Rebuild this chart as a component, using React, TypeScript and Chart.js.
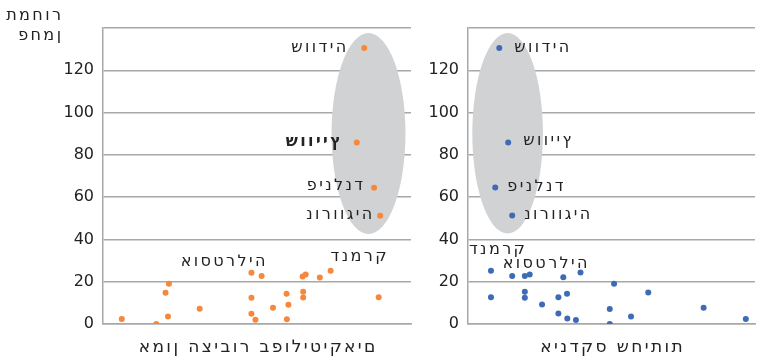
import React, { useEffect, useRef } from "react";
import { Chart, registerables } from "chart.js";

Chart.register(...registerables);

// Carbon price (shared y values), sorted
const carbonPrice = [0, 2, 2.3, 2.4, 3.6, 4.9, 7.2, 7.7, 9.1, 12.4, 12.5, 12.6, 14.3, 14.8, 15.2, 19, 22, 22.5, 22.7, 23.4, 24.2, 25.2, 51.2, 64.5, 85.9, 130.5];
// Left panel: public trust in politicians (arbitrary 0-100 units), matched to carbonPrice order
const trustX = [17.3, 49.5, 59.7, 6.1, 21.1, 48.2, 31.4, 55.2, 60.2, 48.2, 65.0, 89.5, 59.6, 20.3, 65.0, 21.4, 70.4, 64.8, 51.5, 65.8, 48.2, 73.9, 90.0, 88.0, 82.4, 84.8];
// Right panel: corruption index (arbitrary 0-100 units)
const corruptionY = [0, 1.9, 2.4, 2.6, 3.6, 5, 7.1, 7.7, 9.2, 12.4, 12.7, 12.7, 14.3, 14.9, 15.2, 19, 22.1, 22.7, 22.7, 23.4, 24.3, 25.2, 51.3, 64.6, 85.9, 130.5];
const corruptionX = [49.4, 37.6, 96.8, 34.6, 56.8, 31.5, 49.4, 82.1, 25.8, 19.8, 8.0, 31.5, 34.5, 62.8, 19.8, 50.9, 33.2, 15.4, 19.8, 21.5, 39.2, 8.0, 15.4, 9.5, 14.0, 10.9];

const yTicks = [0, 20, 40, 60, 80, 100, 120];
const yTitle = ["תמחור", "פחמן"];
const leftTitle = "אמון הציבור בפוליטיקאים";
const rightTitle = "אינדקס שחיתות";

// Labelled countries and their point index in each panel
const countries = ["שוודיה", "שווייץ", "פינלנד", "נורווגיה", "דנמרק", "אוסטרליה"];
const leftIdx = [25, 24, 23, 22, 21, 20];
const rightIdx = [25, 24, 23, 22, 21, 20];

// Ellipse (data units): cx, cy, rx, ry
const leftEllipse = [86.2, 90.1, 12.0, 47.5];
const rightEllipse = [13.8, 90.2, 12.3, 47.4];

const FONT = "'DejaVu Sans', sans-serif";
const ORANGE = "#F5883A";
const BLUE = "#3D6BB5";
const GRID = "#A8A8A8";
const ELLIPSE = "#D1D2D4";
const TEXT = "#222";
const SPACING = 2.4;

type LabelStyle = { align: "left" | "right"; dx: number; dy: number; bold?: boolean };
const leftLabelStyles: LabelStyle[] = [
  { align: "right", dx: -18, dy: 0 },
  { align: "right", dx: -16, dy: -1, bold: true },
  { align: "right", dx: -11, dy: -1.5 },
  { align: "right", dx: -8, dy: -1 },
  { align: "right", dx: 56, dy: -14 },
  { align: "right", dx: 14, dy: -11 },
];
const rightLabelStyles: LabelStyle[] = [
  { align: "left", dx: 15, dy: 0 },
  { align: "left", dx: 15, dy: -1.5 },
  { align: "left", dx: 12, dy: -1 },
  { align: "left", dx: 12, dy: -1 },
  { align: "right", dx: 34, dy: -21 },
  { align: "right", dx: 7, dy: -9 },
];

// Draw Hebrew text with letters laid out left-to-right in logical order (as in the reference)
function drawHeb(ctx: any, text: string, x: number, y: number, align: "left" | "right" | "center", font: string, spacing: number) {
  ctx.font = font;
  ctx.letterSpacing = spacing + "px";
  ctx.textAlign = "left";
  const s = "\u202D" + text + "\u202C";
  const w = ctx.measureText(s).width - spacing;
  let sx = x;
  if (align === "right") sx = x - w;
  else if (align === "center") sx = x - w / 2;
  ctx.fillText(s, sx, y);
}

function makeOptions(
  xs: number[], ys: number[], color: string, title: string, yWidth: number, padRight: number,
  ellipse: number[], labelIdx: number[], labelStyles: LabelStyle[], showYTitle: boolean
) {
  const plugin = {
    id: "decor",
    beforeDatasetsDraw(chart: any) {
      const { ctx, scales } = chart;
      const x = scales.x, y = scales.y;
      const cx = x.getPixelForValue(ellipse[0]);
      const cy = y.getPixelForValue(ellipse[1]);
      const rx = Math.abs(x.getPixelForValue(ellipse[0] + ellipse[2]) - cx);
      const ry = Math.abs(y.getPixelForValue(ellipse[1] + ellipse[3]) - cy);
      ctx.save();
      ctx.fillStyle = ELLIPSE;
      ctx.beginPath();
      ctx.ellipse(cx, cy, rx, ry, 0, 0, Math.PI * 2);
      ctx.fill();
      ctx.restore();
    },
    afterDatasetsDraw(chart: any) {
      const { ctx, scales, chartArea } = chart;
      const x = scales.x, y = scales.y;
      ctx.save();
      ctx.fillStyle = TEXT;
      ctx.textBaseline = "middle";
      ctx.direction = "ltr";
      labelIdx.forEach((i, k) => {
        const s = labelStyles[k];
        const px = x.getPixelForValue(xs[i]);
        const py = y.getPixelForValue(ys[i]);
        drawHeb(ctx, countries[k], px + s.dx, py + s.dy, s.align, `${s.bold ? "bold " : ""}16px ${FONT}`, SPACING);
      });
      // x-axis title
      drawHeb(ctx, title, (chartArea.left + chartArea.right) / 2, chartArea.bottom + 24, "center", `17px ${FONT}`, SPACING);
      if (showYTitle) {
        drawHeb(ctx, yTitle[0], 61, 16, "right", `16px ${FONT}`, SPACING);
        drawHeb(ctx, yTitle[1], 61, 36, "right", `16px ${FONT}`, SPACING);
      }
      ctx.restore();
    },
  };
  return {
    type: "scatter" as const,
    data: {
      datasets: [
        {
          data: xs.map((v, i) => ({ x: v, y: ys[i] })),
          backgroundColor: color,
          borderColor: color,
          pointRadius: 3,
          pointBorderWidth: 0,
        },
      ],
    },
    options: {
      animation: false,
      responsive: false,
      events: [],
      layout: { padding: { top: 28, right: padRight, left: 0, bottom: 0 } },
      plugins: { legend: { display: false }, tooltip: { enabled: false } },
      scales: {
        x: {
          type: "linear",
          min: 0,
          max: 100,
          grid: { display: false, drawTicks: false },
          border: { display: true, color: GRID, width: 1.5 },
          ticks: { display: false },
          title: { display: false },
          afterFit: (axis: any) => { axis.height = 35; },
        },
        y: {
          type: "linear",
          min: 0,
          max: 140,
          afterBuildTicks: (axis: any) => {
            axis.ticks = [...yTicks, 140].map((v) => ({ value: v }));
          },
          grid: { color: GRID, lineWidth: 1.5, drawTicks: false },
          border: { display: true, color: GRID, width: 1.5 },
          ticks: {
            color: TEXT,
            font: { family: FONT, size: 16 },
            padding: 9,
            callback: (v: any) => (v === 140 ? "" : String(v)),
          },
          afterFit: (axis: any) => { axis.width = yWidth; },
        },
      },
    },
    plugins: [plugin],
  };
}

export default function App() {
  const leftRef = useRef<HTMLCanvasElement>(null);
  const rightRef = useRef<HTMLCanvasElement>(null);
  useEffect(() => {
    const c1 = new Chart(leftRef.current!, makeOptions(trustX, carbonPrice, ORANGE, leftTitle, 103, 9, leftEllipse, leftIdx, leftLabelStyles, true) as any);
    const c2 = new Chart(rightRef.current!, makeOptions(corruptionX, corruptionY, BLUE, rightTitle, 48, 0, rightEllipse, rightIdx, rightLabelStyles, false) as any);
    return () => { c1.destroy(); c2.destroy(); };
  }, []);
  return (
    <div style={{ position: "fixed", left: 0, top: 0, width: 759, height: 359, background: "#fff" }}>
      <canvas ref={leftRef} width={420} height={359} style={{ position: "absolute", left: 0, top: 0 }} />
      <canvas ref={rightRef} width={339} height={359} style={{ position: "absolute", left: 420, top: 0 }} />
    </div>
  );
}
